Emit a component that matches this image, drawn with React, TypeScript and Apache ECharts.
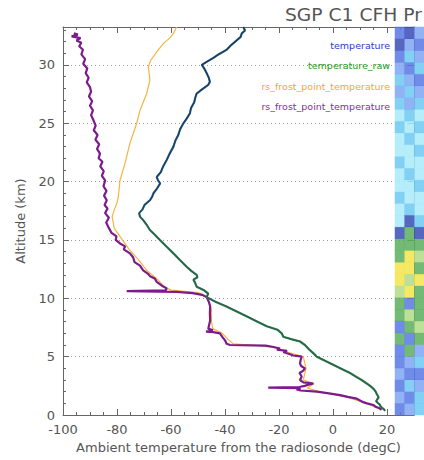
import React, { useEffect, useRef } from "react";
import * as echarts from "echarts";

// Temperature profile (altitude km, temperature degC)
const tempAlt = [0.35, 0.5, 0.6, 0.75, 0.9, 1.05, 1.2, 1.35, 1.5, 1.65, 1.8, 2.0, 2.2, 2.45, 2.7, 3.0, 3.3, 3.6, 3.95, 4.3, 4.65, 5.0, 5.3, 5.65, 6.0, 6.3, 6.5, 6.7, 7.0, 7.3, 7.6, 8.0, 8.4, 8.85, 9.3, 9.7, 10.1, 10.4, 10.7, 11.0, 11.3, 11.6, 11.8, 12.0, 12.35, 12.7, 13.3, 13.85, 14.4, 15.0, 15.45, 15.85, 16.3, 16.7, 17.0, 17.3, 17.6, 18.0, 18.4, 18.7, 19.0, 19.4, 19.85, 20.1, 20.4, 20.8, 21.3, 21.85, 22.4, 23.0, 23.5, 24.0, 24.5, 25.0, 25.4, 25.85, 26.3, 26.8, 27.2, 27.55, 27.9, 28.3, 28.55, 28.9, 29.3, 29.7, 30.0, 30.3, 30.6, 30.9, 31.3, 31.7, 32.1, 32.4, 32.7, 32.95, 33.25];
const tempVal = [19.3, 18.8, 18.2, 17.6, 17.3, 16.5, 16.0, 16.4, 16.9, 16.6, 16.2, 15.8, 15.2, 14.0, 12.5, 10.6, 8.4, 6.3, 3.2, 0.1, -3.0, -6.0, -7.3, -9.0, -10.4, -12.2, -15.5, -18.4, -19.0, -20.5, -24.5, -28.0, -31.5, -35.5, -39.5, -43.5, -46.8, -46.2, -47.8, -50.5, -51.0, -51.7, -50.2, -50.5, -52.5, -54.2, -56.8, -59.1, -61.5, -64.1, -66.0, -67.8, -69.0, -70.3, -71.5, -71.8, -70.6, -69.8, -67.8, -67.0, -66.5, -65.2, -64.0, -64.8, -65.3, -63.8, -62.9, -61.6, -60.5, -59.1, -58.4, -57.3, -56.6, -55.4, -54.2, -53.0, -52.6, -51.4, -51.0, -50.5, -48.5, -46.2, -45.6, -46.0, -46.8, -47.7, -48.6, -46.5, -44.3, -42.4, -39.4, -37.7, -35.7, -34.2, -33.8, -32.6, -33.2];

// Frost point (purple)
const frostAlt = [0.45, 0.57, 0.7, 0.86, 1.0, 1.1, 1.25, 1.4, 1.55, 1.7, 1.85, 2.0, 2.1, 2.2, 2.3, 2.35, 2.4, 2.5, 2.6, 2.7, 2.8, 3.0, 3.3, 3.6, 3.8, 4.0, 4.2, 4.4, 4.7, 5.0, 5.1, 5.25, 5.4, 5.5, 5.6, 5.7, 5.85, 5.95, 6.0, 6.1, 6.4, 6.7, 7.0, 7.1, 7.15, 7.25, 7.4, 7.8, 8.1, 8.7, 9.3, 9.7, 10.1, 10.3, 10.45, 10.55, 10.62, 10.68, 10.85, 11.1, 11.4, 11.7, 11.9, 12.1, 12.4, 12.8, 13.1, 13.5, 13.85, 14.2, 14.45, 14.7, 15.0, 15.3, 15.6, 16.1, 16.5, 16.9, 17.3, 17.7, 18.0, 18.4, 18.8, 19.2, 19.6, 20.1, 20.5, 20.9, 21.3, 21.7, 22.0, 22.4, 22.8, 23.2, 23.6, 24.0, 24.4, 24.8, 25.3, 25.7, 26.1, 26.5, 26.9, 27.3, 27.7, 28.1, 28.5, 28.9, 29.3, 29.7, 30.1, 30.5, 30.9, 31.3, 31.6, 31.9, 32.1, 32.3, 32.45, 32.6, 32.7];
const frostVal = [18.0, 17.2, 15.8, 14.9, 12.6, 11.2, 10.0, 8.8, 5.5, 2.6, -1.5, -6.0, -12.0, -13.5, -12.0, -24.0, -12.5, -10.5, -9.0, -7.3, -11.0, -12.2, -11.6, -12.4, -11.0, -10.4, -11.8, -12.2, -12.0, -11.6, -14.7, -16.5, -18.4, -17.0, -20.8, -19.6, -22.5, -25.0, -38.1, -39.4, -40.0, -41.0, -41.9, -44.3, -47.0, -44.5, -46.2, -45.8, -45.5, -45.6, -45.5, -46.0, -46.8, -48.5, -52.0, -58.0, -76.4, -62.0, -61.6, -63.5, -65.3, -66.0, -67.8, -68.5, -70.3, -71.5, -73.5, -74.0, -75.2, -77.5, -77.0, -78.9, -80.5, -80.2, -82.0, -83.2, -84.0, -83.0, -84.4, -83.5, -84.6, -83.8, -84.8, -83.9, -85.0, -84.4, -85.6, -84.9, -86.2, -85.4, -86.8, -86.3, -87.4, -86.6, -88.0, -87.2, -88.6, -87.9, -88.8, -89.6, -88.9, -90.0, -89.2, -90.4, -89.6, -90.0, -91.2, -90.5, -91.6, -91.0, -92.5, -91.8, -93.2, -92.6, -94.0, -93.2, -95.0, -93.5, -96.8, -94.5, -96.0];

// Frost point (orange)
const frost2Alt = [0.5, 1.0, 1.5, 2.0, 2.3, 2.7, 3.0, 4.0, 5.0, 5.4, 5.8, 6.0, 6.1, 6.5, 7.0, 7.4, 8.0, 9.0, 10.1, 10.5, 10.7, 11.0, 11.5, 12.4, 13.3, 14.2, 15.0, 16.0, 17.0, 17.6, 18.1, 18.7, 20.1, 21.6, 23.3, 25.0, 26.1, 27.55, 28.7, 29.85, 30.4, 31.2, 31.85, 32.3, 32.7, 33.25];
const frost2Val = [17.5, 12.5, 5.5, -5.0, -9.5, -7.0, -11.0, -10.0, -11.0, -17.0, -22.0, -30.0, -37.0, -39.0, -41.0, -44.5, -45.0, -45.0, -46.5, -50.0, -60.0, -62.5, -64.5, -69.0, -72.0, -75.5, -78.0, -81.0, -81.8, -81.0, -80.1, -79.5, -78.9, -77.0, -75.2, -72.7, -71.5, -69.0, -67.8, -68.4, -67.5, -65.0, -62.8, -60.5, -59.1, -57.9];

// Neighbouring time-height strip: colour class per 1-km row (bottom to top), three columns
const stripRows = Array.from({ length: 33 }, (_, i) => String(i));
const stripCols = ["a", "b", "c"];
const stripColA = [1, 2, 1, 2, 1, 1, 5, 1, 5, 5, 8, 6, 6, 5, 5, 7, 4, 4, 3, 4, 4, 3, 4, 4, 3, 4, 3, 2, 3, 2, 1, 7, 1];
const stripColB = [2, 1, 3, 1, 2, 5, 1, 5, 8, 1, 6, 8, 6, 6, 5, 5, 7, 3, 4, 4, 3, 4, 4, 3, 4, 3, 2, 3, 2, 1, 3, 2, 7];
const stripColC = [3, 3, 2, 1, 3, 2, 5, 8, 5, 5, 5, 6, 5, 8, 5, 7, 3, 4, 4, 3, 4, 4, 3, 4, 3, 4, 3, 2, 1, 3, 2, 1, 2];
const stripColors = ["#f4f8ff", "#5878e4", "#7ea4f2", "#6cc8f2", "#a8eafa", "#5aae5e", "#f2e44a", "#3a4cb6", "#b2da86"];

const xTicks = [-100, -80, -60, -40, -20, 0, 20];
const yTicks = [0, 5, 10, 15, 20, 25, 30];

const legendItems = [
  { name: "temperature", color: "#2a3ad8" },
  { name: "temperature_raw", color: "#2a962a" },
  { name: "rs_frost_point_temperature", color: "#f2a830" },
  { name: "rs_frost_point_temperature", color: "#8a2aa8" },
];

const FONT = "'DejaVu Sans', sans-serif";

export default function App() {
  const ref = useRef<HTMLDivElement>(null);

  useEffect(() => {
    if (!ref.current) return;
    const chart = echarts.init(ref.current, null, { renderer: "svg" });

    const pairs = (alt: number[], val: number[]) => alt.map((a, i) => [val[i], a]);
    const heat: number[][] = [];
    [stripColA, stripColB, stripColC].forEach((col, ci) =>
      col.forEach((v, ri) => heat.push([ci, ri, v]))
    );

    const axisColor = "#666";
    const labelStyle = { color: "#555", fontSize: 13, fontFamily: FONT };

    const tempGradient = new echarts.graphic.LinearGradient(0, 0, 0, 1, [
      { offset: 0, color: "#1c2c86" },
      { offset: 0.45, color: "#1e3490" },
      { offset: 0.53, color: "#2a5f5a" },
      { offset: 1, color: "#2a5f52" },
    ]);

    const lineBase = {
      type: "line",
      showSymbol: false,
      symbol: "none",
      xAxisIndex: 0,
      yAxisIndex: 0,
      clip: true,
    };

    chart.setOption({
      animation: false,
      backgroundColor: "#ffffff",
      grid: [
        { left: 63, right: 10, top: 27, bottom: 45 },
        { left: 395, right: 0, top: 27, bottom: 45 },
      ],
      xAxis: [
        {
          type: "value",
          gridIndex: 0,
          min: -100,
          max: 30,
          interval: 20,
          position: "bottom",
          name: "Ambient temperature from the radiosonde (degC)",
          nameLocation: "middle",
          nameGap: 25,
          nameTextStyle: { color: "#555", fontSize: 13, fontFamily: FONT },
          axisLine: { show: true, onZero: false, lineStyle: { color: axisColor, width: 1 } },
          axisTick: { show: true, inside: true, length: 6, lineStyle: { color: axisColor } },
          minorTick: { show: true, splitNumber: 4, length: 3, lineStyle: { color: axisColor } },
          axisLabel: {
            ...labelStyle,
            margin: 8,
            showMaxLabel: false,
            formatter: (v: number) => (xTicks.includes(v) ? String(v) : ""),
          },
          splitLine: { show: false },
        },
        {
          type: "value",
          gridIndex: 0,
          min: -100,
          max: 30,
          interval: 20,
          position: "top",
          axisLine: { show: true, onZero: false, lineStyle: { color: axisColor, width: 1 } },
          axisTick: { show: true, inside: true, length: 6, lineStyle: { color: axisColor } },
          minorTick: { show: true, splitNumber: 4, length: 3, lineStyle: { color: axisColor } },
          axisLabel: { show: false },
          splitLine: { show: false },
        },
        {
          type: "category",
          gridIndex: 1,
          data: stripCols,
          show: false,
        },
      ],
      yAxis: [
        {
          type: "value",
          gridIndex: 0,
          min: 0,
          max: 33.25,
          interval: 5,
          position: "left",
          name: "Altitude (km)",
          nameLocation: "middle",
          nameGap: 36,
          nameRotate: 90,
          nameTextStyle: { color: "#555", fontSize: 13, fontFamily: FONT },
          axisLine: { show: true, onZero: false, lineStyle: { color: axisColor, width: 1 } },
          axisTick: { show: true, inside: true, length: 6, lineStyle: { color: axisColor } },
          minorTick: { show: true, splitNumber: 5, length: 3, lineStyle: { color: axisColor } },
          axisLabel: {
            ...labelStyle,
            margin: 8,
            showMaxLabel: false,
            formatter: (v: number) => (yTicks.includes(v) ? String(v) : ""),
          },
          splitLine: {
            show: true,
            lineStyle: { color: "#9a9a9a", type: [1, 3], width: 1 },
          },
        },
        {
          type: "value",
          gridIndex: 0,
          min: 0,
          max: 33.25,
          interval: 5,
          position: "right",
          axisLine: { show: true, onZero: false, lineStyle: { color: axisColor, width: 1 } },
          axisTick: { show: true, inside: true, length: 6, lineStyle: { color: axisColor } },
          axisLabel: { show: false },
          splitLine: { show: false },
        },
        {
          type: "category",
          gridIndex: 1,
          data: stripRows,
          show: false,
        },
      ],
      visualMap: {
        type: "piecewise",
        show: false,
        seriesIndex: 4,
        dimension: 2,
        pieces: stripColors.map((c, i) => ({ value: i, color: c })),
      },
      series: [
        {
          ...lineBase,
          name: "rs_frost_point_temperature_orange",
          data: pairs(frost2Alt, frost2Val),
          lineStyle: { color: "#f5b440", width: 1.2 },
          z: 2,
        },
        {
          ...lineBase,
          name: "rs_frost_point_temperature",
          data: pairs(frostAlt, frostVal),
          lineStyle: { color: "#7c1a8e", width: 2.2 },
          z: 3,
        },
        {
          ...lineBase,
          name: "temperature_raw",
          data: pairs(tempAlt, tempVal),
          lineStyle: { color: "#3a8f44", width: 2.2 },
          z: 4,
        },
        {
          ...lineBase,
          name: "temperature",
          data: pairs(tempAlt, tempVal),
          lineStyle: { color: tempGradient, width: 1.4 },
          z: 5,
        },
        {
          type: "heatmap",
          name: "strip",
          xAxisIndex: 2,
          yAxisIndex: 2,
          data: heat,
          itemStyle: { opacity: 0.85 },
          z: 10,
        },
      ],
      graphic: [
        {
          type: "text",
          x: 285,
          y: 15,
          scaleX: 1.1,
          z: 20,
          style: {
            text: "SGP C1 CFH Pr",
            fill: "#555",
            font: `17px ${FONT}`,
            verticalAlign: "middle",
            textVerticalAlign: "middle",
          },
        },
        ...legendItems.map((it, i) => ({
          type: "text",
          z: 20,
          x: 390,
          y: [45, 65, 86, 106][i],
          style: {
            text: it.name,
            fill: it.color,
            font: `9.5px ${FONT}`,
            align: "right",
            verticalAlign: "middle",
            textAlign: "right",
            textVerticalAlign: "middle",
          },
        })),
      ],
    });

    return () => chart.dispose();
  }, []);

  return (
    <div
      ref={ref}
      style={{ position: "fixed", left: 0, top: 0, width: 424, height: 460, background: "#fff" }}
    />
  );
}
